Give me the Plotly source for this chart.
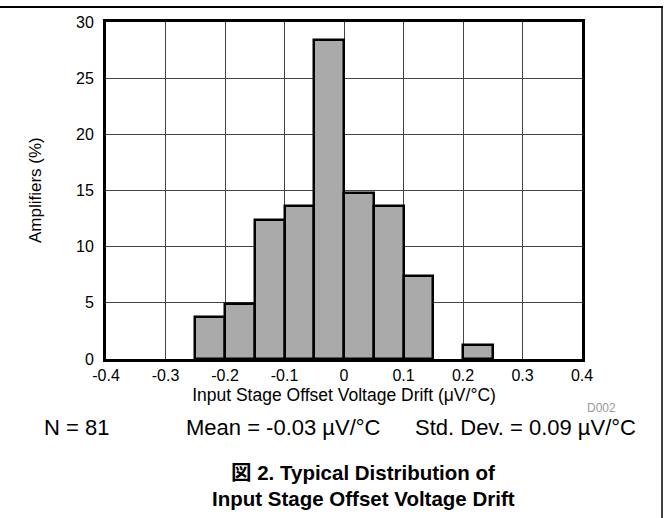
import plotly.graph_objects as go

# Data
bin_centers = [-0.225, -0.175, -0.125, -0.075, -0.025, 0.025, 0.075, 0.125, 0.225]
amplifiers_pct = [3.70, 4.94, 12.35, 13.58, 28.40, 14.81, 13.58, 7.41, 1.23]
bin_width = 0.05
x_tickvals = [-0.4, -0.3, -0.2, -0.1, 0.0, 0.1, 0.2, 0.3, 0.4]
x_ticktext = ["-0.4", "-0.3", "-0.2", "-0.1", "0", "0.1", "0.2", "0.3", "0.4"]
y_tickvals = [0, 5, 10, 15, 20, 25, 30]

W, H = 669, 518
L, R, T, B = 106, 582, 22, 359  # plot area in page pixels


def px(x):
    return (x - L) / (R - L)


def py(y):
    return (B - y) / (B - T)


FONT = "Liberation Sans, Arial, Noto Sans CJK JP, sans-serif"

fig = go.Figure()
fig.add_trace(go.Bar(
    x=bin_centers, y=amplifiers_pct, width=bin_width,
    marker=dict(color="#aaaaaa", line=dict(color="black", width=2.5)),
    showlegend=False,
))

fig.update_layout(
    width=W, height=H,
    margin=dict(l=L, r=W - R, t=T, b=H - B, pad=0),
    paper_bgcolor="white", plot_bgcolor="white",
    font=dict(family=FONT, color="black", size=16),
    bargap=0,
    xaxis=dict(
        range=[-0.4, 0.4], tickvals=x_tickvals, ticktext=x_ticktext,
        showgrid=True, gridcolor="#444444", gridwidth=1,
        showline=True, linecolor="black", linewidth=3, mirror=True,
        zeroline=False, ticks="", tickfont=dict(size=16),
        title=dict(text="Input Stage Offset Voltage Drift (\u03bcV/°C)", font=dict(size=17.5), standoff=6),
    ),
    yaxis=dict(
        range=[0, 30], tickvals=y_tickvals,
        showgrid=True, gridcolor="#444444", gridwidth=1,
        showline=True, linecolor="black", linewidth=3, mirror=True,
        zeroline=False, ticks="", tickfont=dict(size=16), ticklabelstandoff=6,
    ),
)

ann = [
    dict(text="Amplifiers (%)", x=px(35), y=py(190), font=dict(size=17), textangle=-90,
         xanchor="center", yanchor="middle"),
    dict(text="D002", x=px(601), y=py(408), font=dict(size=12, color="#999999"),
         xanchor="center", yanchor="middle"),
    dict(text="N = 81", x=px(42), y=py(427), font=dict(size=22),
         xanchor="left", yanchor="middle"),
    dict(text="Mean = -0.03 µV/°C", x=px(184), y=py(427), font=dict(size=22),
         xanchor="left", yanchor="middle"),
    dict(text="Std. Dev. = 0.09 µV/°C", x=px(638), y=py(427), font=dict(size=22),
         xanchor="right", yanchor="middle"),
    dict(text="<b>図 2. Typical Distribution of</b>", x=px(363), y=py(473), font=dict(size=20.5),
         xanchor="center", yanchor="middle"),
    dict(text="<b>Input Stage Offset Voltage Drift</b>", x=px(363), y=py(498), font=dict(size=20.5),
         xanchor="center", yanchor="middle"),
]
for a in ann:
    a.update(xref="paper", yref="paper", showarrow=False)
    fig.add_annotation(**a)

# outer frame: only its top and right edges fall inside the picture
fig.add_shape(type="line", xref="paper", yref="paper",
              x0=px(0), x1=px(663), y0=py(7), y1=py(7),
              line=dict(color="black", width=2))
fig.add_shape(type="line", xref="paper", yref="paper",
              x0=px(662), x1=px(662), y0=py(7), y1=py(540),
              line=dict(color="black", width=1.5))

fig.write_html(
    "out.html",
    config={"displayModeBar": False},
    post_script="document.body.style.margin='0';",
)
